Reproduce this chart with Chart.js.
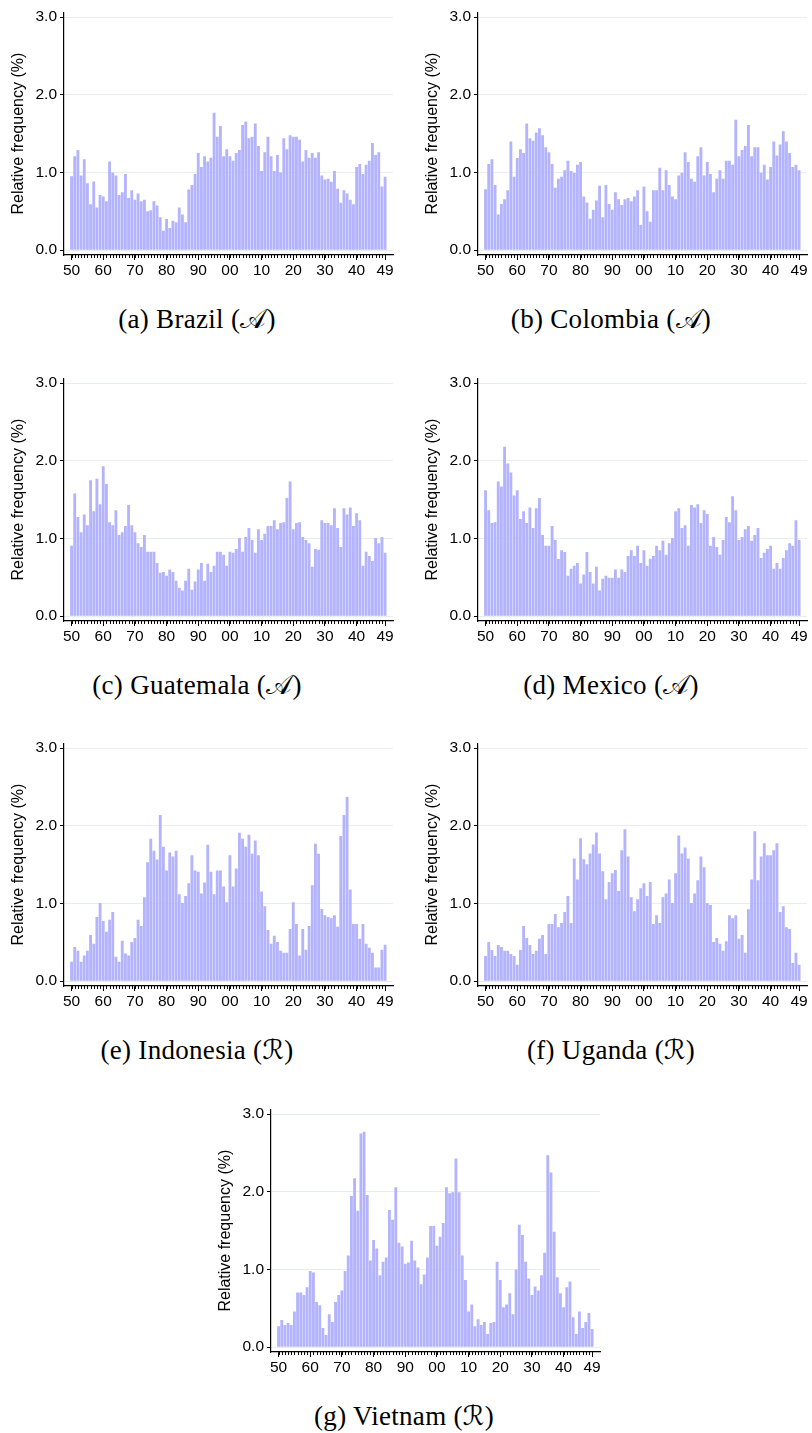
<!DOCTYPE html>
<html>
<head>
<meta charset="utf-8">
<script src="https://cdn.jsdelivr.net/npm/chart.js@4.4.0/dist/chart.umd.min.js"></script>
<style>
  html, body { margin: 0; padding: 0; background: #fff; }
  #page { position: relative; width: 812px; height: 1433px; overflow: hidden; }
  .panel { position: absolute; width: 400px; height: 340px; }
  .panel canvas { position: absolute; left: 0; top: 0; }
  .cap {
    position: absolute; left: 0; top: 304px; width: 394px; text-align: center;
    font-family: "Liberation Serif", "DejaVu Serif", serif; font-size: 27px;
    line-height: 30px; color: #000; white-space: nowrap; letter-spacing: 0.3px;
  }
  .cal { font-family: "DejaVu Sans", "DejaVu Serif", serif; font-style: normal; }
</style>
</head>
<body>
<div id="page"></div>
<script>
// categories: years 1950..2049, one bar per year
const years = Array.from({ length: 100 }, (_, i) => 1950 + i);
const tickPos = [0, 10, 20, 30, 40, 50, 60, 70, 80, 90, 99];
const tickLabels = ['50', '60', '70', '80', '90', '00', '10', '20', '30', '40', '49'];
const yTicks = [0, 1, 2, 3];

// relative frequency (%) per year
const brazil = [
  0.95, 1.21, 1.29, 0.96, 1.17, 0.86, 0.59, 0.885, 0.55, 0.71,
  0.69, 0.63, 1.14, 1.0, 0.96, 0.71, 0.745, 0.98, 0.67, 0.77,
  0.65, 0.73, 0.63, 0.65, 0.50, 0.515, 0.63, 0.575, 0.425, 0.25,
  0.40, 0.285, 0.38, 0.36, 0.55, 0.46, 0.36, 0.78, 0.84, 0.98,
  1.25, 1.07, 1.21, 1.14, 1.19, 1.77, 1.46, 1.60, 1.21, 1.30,
  1.21, 1.15, 1.25, 1.29, 1.61, 1.655, 1.44, 1.46, 1.63, 1.34,
  1.02, 1.26, 1.46, 1.21, 1.02, 1.225, 1.0, 1.44, 1.30, 1.48,
  1.46, 1.46, 1.42, 1.14, 1.29, 1.19, 1.25, 1.19, 1.26, 0.96,
  0.91, 0.92, 0.88, 1.02, 0.79, 0.61, 0.77, 0.73, 0.65, 0.59,
  1.07, 1.11, 0.98, 1.10, 1.15, 1.38, 1.225, 1.26, 0.82, 0.945
];
const colombia = [
  0.785, 1.11, 1.17, 0.84, 0.46, 0.595, 0.655, 0.77, 1.40, 0.945,
  1.185, 1.30, 1.25, 1.63, 1.44, 1.41, 1.515, 1.57, 1.48, 1.325,
  1.26, 1.11, 0.805, 0.92, 0.945, 1.03, 1.15, 1.02, 0.995, 1.10,
  1.135, 0.69, 0.615, 0.405, 0.52, 0.64, 0.83, 0.425, 0.84, 0.595,
  0.52, 0.745, 0.655, 0.58, 0.655, 0.67, 0.63, 0.69, 0.77, 0.325,
  0.82, 0.50, 0.365, 0.77, 0.77, 1.06, 0.77, 1.03, 0.84, 0.69,
  0.655, 0.96, 0.995, 1.26, 1.135, 0.92, 0.88, 1.21, 1.325, 0.96,
  1.135, 0.98, 0.745, 0.92, 1.03, 0.92, 1.15, 1.15, 1.10, 1.68,
  1.21, 1.29, 1.34, 1.61, 1.21, 1.325, 1.325, 0.995, 1.10, 0.91,
  1.07, 1.40, 1.22, 1.36, 1.53, 1.40, 1.25, 1.07, 1.10, 1.03
];
const guatemala = [
  0.905, 1.58, 1.275, 1.08, 1.31, 1.17, 1.75, 1.35, 1.77, 1.44,
  1.93, 1.70, 1.21, 1.17, 1.365, 1.045, 1.08, 1.16, 1.43, 1.17,
  1.08, 0.94, 0.89, 1.045, 0.83, 0.83, 0.83, 0.685, 0.56, 0.57,
  0.52, 0.60, 0.57, 0.455, 0.365, 0.33, 0.455, 0.61, 0.34, 0.445,
  0.60, 0.685, 0.455, 0.675, 0.57, 0.65, 0.83, 0.83, 0.79, 0.65,
  0.83, 0.815, 0.865, 1.005, 0.83, 1.02, 1.135, 0.98, 0.815, 1.12,
  0.98, 1.06, 1.16, 1.16, 1.235, 1.12, 1.20, 1.21, 1.52, 1.735,
  1.12, 1.20, 1.21, 1.02, 0.98, 0.94, 0.635, 0.865, 0.855, 1.235,
  1.20, 1.20, 1.17, 1.39, 1.135, 0.89, 1.39, 1.31, 1.40, 1.16,
  1.325, 1.235, 0.65, 0.83, 0.775, 0.71, 1.005, 0.94, 1.02, 0.815
];
const mexico = [
  1.62, 1.365, 1.20, 1.21, 1.735, 1.67, 2.18, 1.965, 1.85, 1.555,
  1.62, 1.25, 1.35, 1.20, 1.40, 1.135, 1.39, 1.52, 1.045, 0.905,
  0.905, 1.16, 0.98, 0.735, 0.85, 0.825, 0.52, 0.61, 0.65, 0.685,
  0.42, 0.535, 0.825, 0.57, 0.42, 0.635, 0.33, 0.48, 0.52, 0.495,
  0.495, 0.60, 0.495, 0.60, 0.57, 0.775, 0.85, 0.775, 0.905, 0.685,
  0.85, 0.65, 0.74, 0.775, 0.905, 0.85, 0.97, 0.79, 0.94, 1.005,
  1.35, 1.39, 1.135, 1.17, 0.905, 1.43, 1.40, 1.44, 1.20, 1.365,
  1.315, 0.905, 1.02, 0.89, 0.79, 0.98, 1.275, 1.21, 1.545, 1.365,
  0.98, 1.02, 1.12, 1.16, 0.97, 1.045, 1.135, 0.75, 0.815, 0.865,
  0.905, 0.61, 0.685, 0.61, 0.75, 0.85, 0.94, 0.905, 1.235, 0.98
];
const indonesia = [
  0.25, 0.44, 0.39, 0.25, 0.33, 0.39, 0.595, 0.48, 0.825, 1.005,
  0.775, 0.635, 0.79, 0.89, 0.315, 0.25, 0.52, 0.355, 0.33, 0.505,
  0.555, 0.79, 0.71, 1.08, 1.53, 1.835, 1.68, 1.565, 2.14, 1.73,
  1.425, 1.655, 1.605, 1.68, 1.12, 1.005, 1.095, 1.26, 1.62, 1.425,
  1.41, 1.13, 1.27, 1.755, 1.41, 1.12, 1.425, 1.425, 1.22, 1.015,
  1.62, 1.22, 1.45, 1.91, 1.835, 1.73, 1.885, 1.64, 1.81, 1.62,
  1.155, 0.965, 0.66, 0.48, 0.585, 0.505, 0.39, 0.365, 0.365, 0.67,
  1.015, 0.735, 0.33, 0.67, 0.405, 0.71, 1.235, 1.77, 1.64, 0.93,
  0.85, 0.825, 0.81, 0.85, 0.70, 1.87, 2.14, 2.37, 1.18, 0.735,
  0.735, 0.545, 0.735, 0.48, 0.43, 0.365, 0.175, 0.175, 0.405, 0.47
];
const uganda = [
  0.325, 0.505, 0.40, 0.325, 0.465, 0.44, 0.39, 0.39, 0.35, 0.325,
  0.21, 0.40, 0.71, 0.555, 0.465, 0.35, 0.39, 0.545, 0.595, 0.35,
  0.735, 0.735, 0.865, 0.695, 0.75, 0.89, 1.095, 0.75, 1.58, 1.31,
  1.84, 1.57, 1.505, 1.645, 1.76, 1.915, 1.645, 1.415, 1.055, 1.275,
  1.39, 1.43, 1.16, 1.685, 1.955, 1.605, 1.08, 0.90, 1.055, 1.195,
  1.26, 1.095, 1.275, 0.735, 0.85, 0.75, 1.08, 1.13, 1.31, 1.005,
  1.39, 1.875, 1.645, 1.72, 1.58, 1.005, 1.13, 1.30, 1.605, 1.465,
  1.005, 0.98, 0.505, 0.555, 0.48, 0.39, 0.515, 0.85, 0.81, 0.85,
  0.545, 0.595, 0.365, 0.925, 1.31, 1.93, 1.30, 1.605, 1.775, 1.62,
  1.62, 1.685, 1.775, 0.89, 0.965, 0.695, 0.67, 0.235, 0.365, 0.21
];
const vietnam = [
  0.27, 0.35, 0.285, 0.31, 0.285, 0.46, 0.705, 0.705, 0.67, 0.77,
  0.98, 0.96, 0.58, 0.54, 0.245, 0.155, 0.425, 0.325, 0.58, 0.67,
  0.73, 0.98, 1.18, 1.945, 2.175, 1.755, 2.75, 2.775, 1.96, 1.115,
  1.38, 1.27, 0.925, 1.10, 1.155, 1.765, 1.64, 2.06, 1.345, 1.295,
  1.075, 1.09, 1.37, 1.115, 1.025, 0.81, 0.935, 1.155, 1.56, 1.56,
  1.305, 1.42, 1.60, 2.06, 1.98, 1.995, 2.43, 1.995, 1.18, 0.865,
  0.46, 0.55, 0.27, 0.36, 0.285, 0.325, 0.17, 0.31, 0.325, 1.10,
  0.865, 0.515, 0.55, 0.695, 0.425, 1.0, 1.575, 1.445, 1.10, 0.885,
  0.67, 0.78, 0.73, 0.925, 1.215, 2.47, 2.25, 1.485, 0.90, 0.695,
  0.515, 0.77, 0.845, 0.385, 0.17, 0.46, 0.245, 0.325, 0.44, 0.235
];

const panels = [
  { tag: 'a', name: 'Brazil', mark: '\u{1D49C}', values: brazil, ox: 0, oy: 0 },
  { tag: 'b', name: 'Colombia', mark: '\u{1D49C}', values: colombia, ox: 414, oy: 0 },
  { tag: 'c', name: 'Guatemala', mark: '\u{1D49C}', values: guatemala, ox: 0, oy: 366 },
  { tag: 'd', name: 'Mexico', mark: '\u{1D49C}', values: mexico, ox: 414, oy: 366 },
  { tag: 'e', name: 'Indonesia', mark: '\u211B', values: indonesia, ox: 0, oy: 731 },
  { tag: 'f', name: 'Uganda', mark: '\u211B', values: uganda, ox: 414, oy: 731 },
  { tag: 'g', name: 'Vietnam', mark: '\u211B', values: vietnam, ox: 207, oy: 1097 }
];

const sansFont = '"Liberation Sans", Arial, Helvetica, sans-serif';

// short tick under every year, the labelled ones are drawn by the scale itself
const minorTicks = {
  id: 'minorTicks',
  afterDraw(chart) {
    const xs = chart.scales.x;
    const ctx = chart.ctx;
    ctx.save();
    ctx.strokeStyle = '#000';
    ctx.lineWidth = 1;
    years.forEach((yr, i) => {
      const px = Math.round(xs.getPixelForValue(i)) + 0.5;
      ctx.beginPath();
      ctx.moveTo(px, xs.top);
      ctx.lineTo(px, xs.top + 3);
      ctx.stroke();
    });
    ctx.restore();
  }
};

const makePanel = (p) => {
  const div = document.createElement('div');
  div.className = 'panel';
  div.style.left = p.ox + 'px';
  div.style.top = p.oy + 'px';

  const cv = document.createElement('canvas');
  cv.width = 400;
  cv.height = 290;
  div.appendChild(cv);

  const cap = document.createElement('div');
  cap.className = 'cap';
  cap.innerHTML = '(' + p.tag + ') ' + p.name + ' (<span class="cal">' + p.mark + '</span>)';
  div.appendChild(cap);
  document.getElementById('page').appendChild(div);

  new Chart(cv.getContext('2d'), {
    type: 'bar',
    data: {
      datasets: [{
        data: p.values.map((v, i) => ({ x: i, y: v })),
        backgroundColor: '#b3b3fe',
        borderWidth: 0,
        barPercentage: 0.9,
        categoryPercentage: 1
      }]
    },
    options: {
      responsive: false,
      animation: false,
      events: [],
      layout: { padding: { left: 0, top: 10, right: 7, bottom: 0 } },
      plugins: { legend: { display: false }, tooltip: { enabled: false } },
      scales: {
        x: {
          type: 'linear',
          offset: false,
          min: -2.39,
          max: 101.49,
          afterBuildTicks: (s) => { s.ticks = tickPos.map(v => ({ value: v })); },
          afterFit: (s) => { s.height = 35; },
          ticks: {
            autoSkip: false,
            maxRotation: 0,
            padding: 1,
            color: '#000',
            font: { family: sansFont, size: 15.5 },
            callback: (v, i) => tickLabels[i]
          },
          grid: { drawOnChartArea: false, drawTicks: true, tickLength: 5, tickColor: '#000', offset: false },
          border: { color: '#000', width: 1.2 }
        },
        y: {
          min: -0.0625,
          max: 3.0625,
          afterBuildTicks: (s) => { s.ticks = yTicks.map(v => ({ value: v })); },
          afterFit: (s) => { s.width = 64; },
          ticks: {
            padding: 3,
            color: '#000',
            font: { family: sansFont, size: 15.5 },
            callback: (v) => v.toFixed(1)
          },
          grid: { color: '#e8eded', lineWidth: 1, tickLength: 4, tickColor: '#000' },
          border: { color: '#000', width: 1.2 },
          title: {
            display: true,
            text: 'Relative frequency (%)',
            color: '#000',
            font: { family: sansFont, size: 16 },
            padding: { top: 9, bottom: 0 }
          }
        }
      }
    },
    plugins: [minorTicks]
  });
};

panels.forEach(makePanel);
</script>
</body>
</html>
